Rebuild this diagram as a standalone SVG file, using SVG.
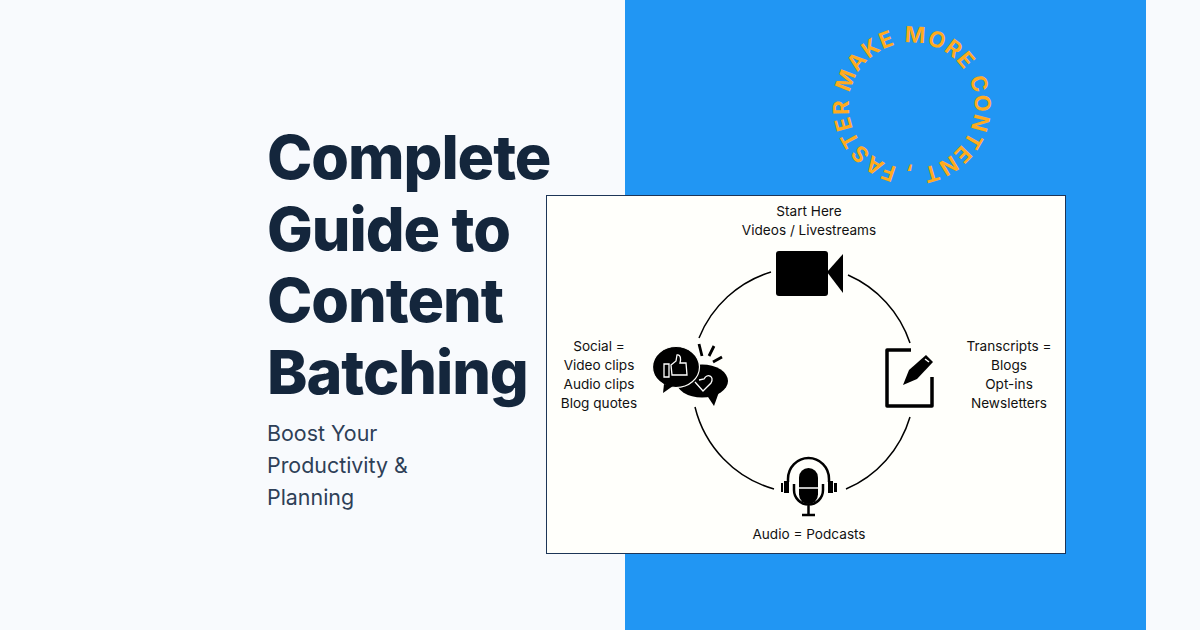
<svg xmlns="http://www.w3.org/2000/svg" width="1200" height="630" viewBox="0 0 1200 630">
<style>
.t{font-family:Inter,"Liberation Sans",sans-serif;font-weight:800;font-size:61px;fill:#14263c;letter-spacing:-1.050px}
.s{font-family:Inter,"Liberation Sans",sans-serif;font-size:21.400px;fill:#2e4057}
.l{font-family:Inter,"Liberation Sans",sans-serif;font-size:13.600px;fill:#111;text-anchor:middle}
.c{fill:none;stroke:#000;stroke-width:1.500}
.r{font-family:Inter,"Liberation Sans",sans-serif;font-weight:700;font-size:22px;fill:#ffab1d;letter-spacing:1.100px;word-spacing:2px}
</style>
<defs><path id="ring" d="M850 93A63 63 0 1 1 849.900 93.500"/></defs>
<rect width="1200" height="630" fill="#f8fafd"/>
<rect x="625" width="521" height="630" fill="#2196f3"/>
<g id="heading">
<text class="t" x="267" y="179">Complete</text>
<text class="t" x="267" y="251">Guide to</text>
<text class="t" x="267" y="322">Content</text>
<text class="t" x="267" y="394">Batching</text>
<text class="s" x="267" y="441">Boost Your</text>
<text class="s" x="267" y="473">Productivity &amp;</text>
<text class="s" x="267" y="505">Planning</text>
</g>
<g id="ring-text"><text class="r"><textPath href="#ring">MAKE MORE CONTENT , FASTER</textPath></text></g>
<g id="panel"><rect x="546.500" y="195.500" width="519" height="358" fill="#fffffb" stroke="#1d3557"/></g>
<g id="connectors">
<path class="c" d="M699 338A113 113 0 0 1 771 272"/>
<path class="c" d="M848 275A113 113 0 0 1 910 343"/>
<path class="c" d="M910 417A113 113 0 0 1 846 489"/>
<path class="c" d="M774 489A113 113 0 0 1 695 407"/>
</g>
<g id="video">
<rect x="776" y="251" width="52" height="45" rx="3"/>
<path d="M827 272L843 254V293Z"/>
<text class="l" x="809" y="216">Start Here</text>
<text class="l" x="809" y="235">Videos / Livestreams</text>
</g>
<g id="transcripts">
<path d="M911 350H887V406H932V377" fill="none" stroke="#000" stroke-width="3.500" stroke-linejoin="round"/>
<path d="M903 385L909 370L926 355L933 362L917 379Z" fill="#000"/>
<path d="M925 359L929 362" stroke="#fff" stroke-width="1.500"/>
<text class="l" x="1009" y="351">Transcripts =</text>
<text class="l" x="1009" y="370">Blogs</text>
<text class="l" x="1009" y="389">Opt-ins</text>
<text class="l" x="1009" y="408">Newsletters</text>
</g>
<g id="audio">
<rect x="799" y="468" width="19" height="36" rx="9.500"/>
<path d="M799 488H818" stroke="#fff" stroke-width="1.500"/>
<path d="M794 484V490A14.500 14.500 0 0 0 823 490V484M808.500 505V514M802 515H815" fill="none" stroke="#000" stroke-width="2.500"/>
<path d="M788 482V479A20.500 21 0 0 1 829 479V482" fill="none" stroke="#000" stroke-width="2.500"/>
<rect x="784" y="481" width="5" height="12"/><rect x="828" y="481" width="5" height="12"/>
<rect x="781" y="483" width="2" height="9"/><rect x="834" y="483" width="3" height="9"/>
<text class="l" x="809" y="539">Audio = Podcasts</text>
</g>
<g id="social">
<ellipse cx="702" cy="381" rx="26" ry="16.500"/>
<path d="M706 394L714 406L719 392Z"/>
<ellipse cx="676" cy="367" rx="23.500" ry="20.500" stroke="#fffffb" stroke-width="1.200"/>
<path d="M664 384L663 393L673 386Z"/>
<path d="M664 364H669V377H664ZM671 365L676 361L677 355C681 354 681 360 680 363H686L687 375H672Z" fill="none" stroke="#fff" stroke-width="1.300"/>
<path d="M695 382L703 391L711 383C715 376 707 373 704 379L699 380" fill="none" stroke="#fff" stroke-width="1.300"/>
<path d="M699 344L702 356M714 346L709 356M722 357L713 362" stroke="#000" stroke-width="2.800"/>
<text class="l" x="599" y="351">Social =</text>
<text class="l" x="599" y="370">Video clips</text>
<text class="l" x="599" y="389">Audio clips</text>
<text class="l" x="599" y="408">Blog quotes</text>
</g>
</svg>
